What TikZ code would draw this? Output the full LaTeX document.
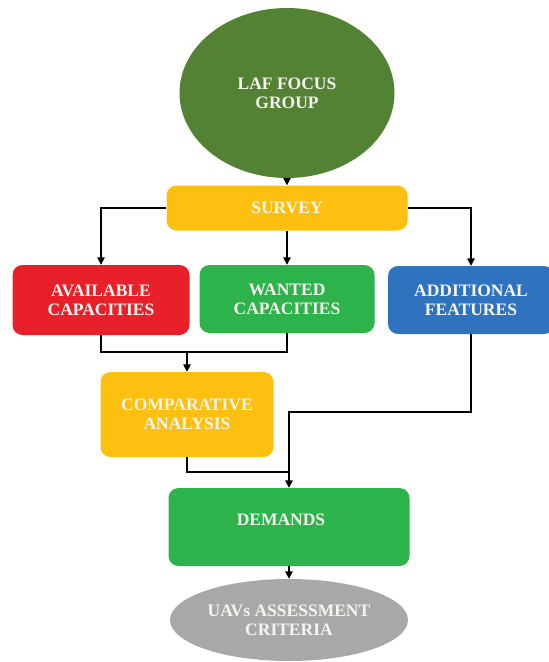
\documentclass[tikz,border=0pt]{standalone}
\usepackage{fontspec}
\setmainfont{Liberation Serif}
\usetikzlibrary{shapes.geometric,arrows.meta,calc}
\definecolor{dkgreen}{HTML}{548235}
\definecolor{amber}{HTML}{FDC010}
\definecolor{redbox}{HTML}{E8202A}
\definecolor{greenbox}{HTML}{2DB34C}
\definecolor{bluebox}{HTML}{2F73BF}
\definecolor{graybox}{HTML}{A8A8A8}
\definecolor{txt}{HTML}{F6F4EE}
\tikzset{
  every node/.style={font=\fontsize{17.5}{19}\selectfont\bfseries, text=txt, align=center, inner sep=0pt},
  boxshape/.style={rectangle, rounded corners=10pt, draw=none},
  ellshape/.style={ellipse, draw=none},
  conn/.style={line width=1.5pt, black},
  arr/.style={conn, -{Triangle[length=7.5pt,width=7.5pt]}},
}
\begin{document}
\begin{tikzpicture}[x=1pt,y=-1pt]
\useasboundingbox (0,0) rectangle (549,662);
\node[ellshape, fill=dkgreen, minimum width=215pt, minimum height=170pt] (laf) at (287,93) {LAF FOCUS\\GROUP};
\node[boxshape, fill=amber, minimum width=241pt, minimum height=45pt] (survey) at (287,208) {SURVEY};
\node[boxshape, fill=redbox, minimum width=177pt, minimum height=70pt] (avail) at (101,300) {AVAILABLE\\CAPACITIES};
\node[boxshape, fill=greenbox, minimum width=175pt, minimum height=68pt] (wanted) at (287,299) {WANTED\\CAPACITIES};
\node[boxshape, fill=bluebox, minimum width=166pt, minimum height=68pt] (add) at (471,300) {ADDITIONAL\\FEATURES};
\node[boxshape, fill=amber, minimum width=173pt, minimum height=85pt] (comp) at (187,414.5) {COMPARATIVE\\ANALYSIS};
\node[boxshape, fill=greenbox, minimum width=241pt, minimum height=78pt] (dem) at (289,527) {};
\node (demtxt) at (281,520) {DEMANDS};
\node[ellshape, fill=graybox, minimum width=238pt, minimum height=82pt] (crit) at (289,620) {UAVs ASSESSMENT\\CRITERIA};

\coordinate (m1) at (187,352);
\coordinate (m2) at (289,472);
\coordinate (m3) at (289,412);

\draw[arr] (laf.south) -- (survey.north);
\draw[arr] (survey.west) -| (avail.north);
\draw[arr] (survey.south) -- (wanted.north);
\draw[arr] (survey.east) -| (add.north);
\draw[conn] (avail.south) |- (m1) -| (wanted.south);
\draw[arr] (m1) -- (comp.north);
\draw[conn] (comp.south) |- (m2);
\draw[arr] (add.south) |- (m3) -- (dem.north);
\draw[arr] (dem.south) -- (crit.north);
\end{tikzpicture}
\end{document}
